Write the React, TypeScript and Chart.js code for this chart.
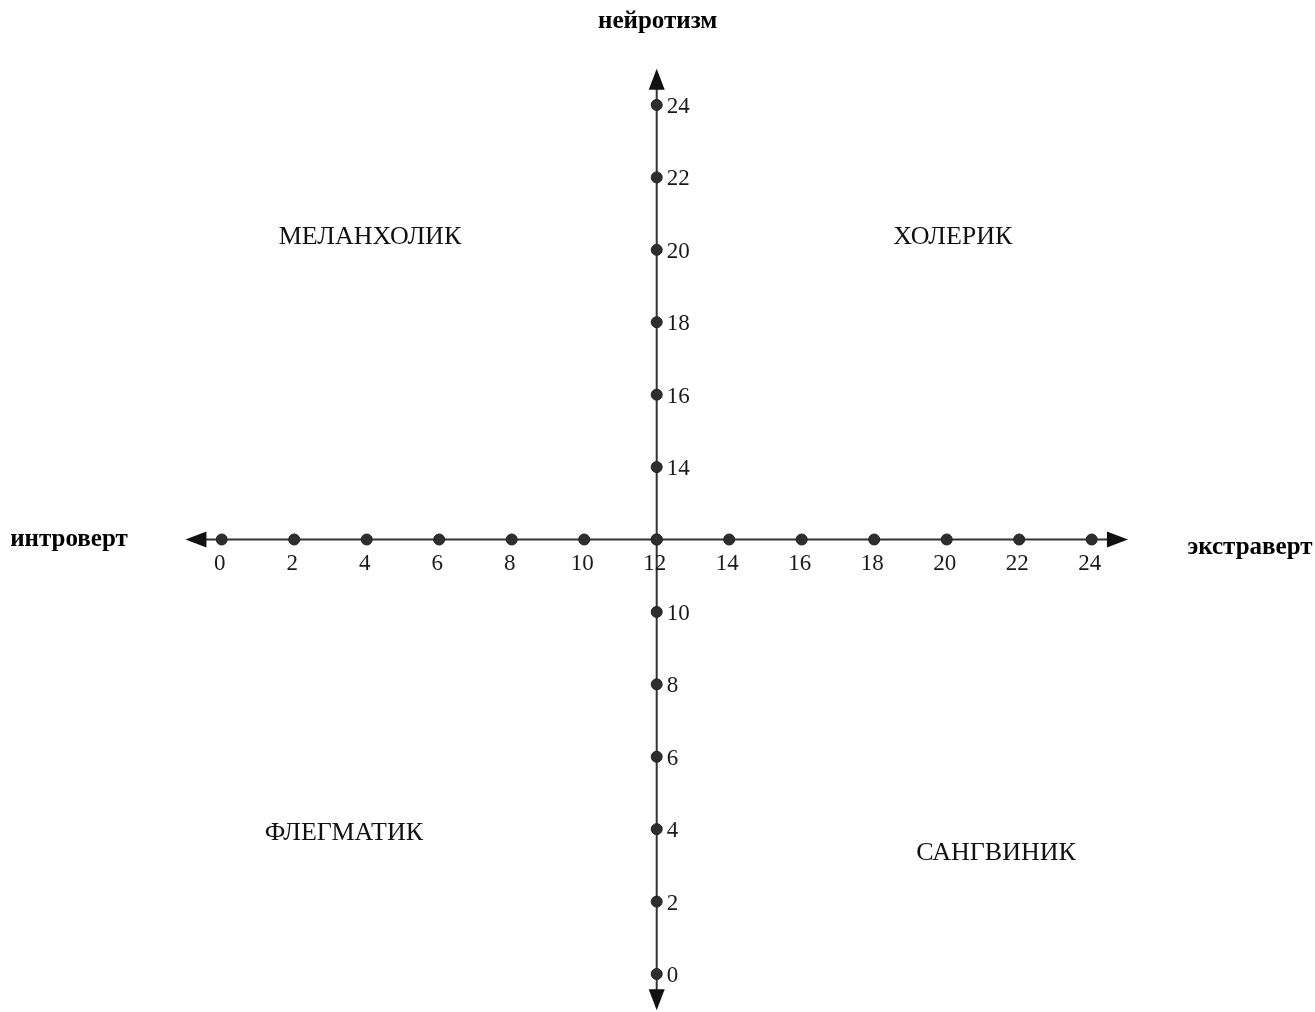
import React, { useEffect, useRef } from "react";
import { Chart, registerables } from "chart.js";

Chart.register(...registerables);

const extraversionTicks = [0, 2, 4, 6, 8, 10, 12, 14, 16, 18, 20, 22, 24];
const neuroticismTicks = [0, 2, 4, 6, 8, 10, 12, 14, 16, 18, 20, 22, 24];
const axisCenter = 12;
const axisEnds = [-1, 25];
const hiddenYTickLabels = [12];
const quadrantNames = ["МЕЛАНХОЛИК", "ХОЛЕРИК", "ФЛЕГМАТИК", "САНГВИНИК"];
const quadrantX = [4.09, 20.17, 3.37, 21.36];
const quadrantY = [20.35, 20.35, 3.89, 3.34];
const axisTitles = { top: "нейротизм", left: "интроверт", right: "экстраверт" };

const LINE = "#333333";
const SERIF = '"Liberation Serif", "Times New Roman", serif';

const axesPlugin = {
  id: "crossAxes",
  beforeDatasetsDraw(chart: any) {
    const { ctx, scales } = chart;
    const xs = scales.x;
    const ys = scales.y;
    const cx = xs.getPixelForValue(axisCenter);
    const cy = ys.getPixelForValue(axisCenter);
    const xl = xs.getPixelForValue(axisEnds[0]);
    const xr = xs.getPixelForValue(axisEnds[1]);
    const yt = ys.getPixelForValue(axisEnds[1]);
    const yb = ys.getPixelForValue(axisEnds[0]);
    ctx.save();
    ctx.strokeStyle = LINE;
    ctx.fillStyle = "#111";
    ctx.lineWidth = 2;
    ctx.beginPath();
    ctx.moveTo(xl + 4, cy);
    ctx.lineTo(xr - 4, cy);
    ctx.moveTo(cx, yt + 4);
    ctx.lineTo(cx, yb - 4);
    ctx.stroke();
    const L = 21;
    const W = 8;
    ctx.beginPath();
    ctx.moveTo(xl, cy);
    ctx.lineTo(xl + L, cy - W);
    ctx.lineTo(xl + L, cy + W);
    ctx.closePath();
    ctx.fill();
    ctx.beginPath();
    ctx.moveTo(xr, cy);
    ctx.lineTo(xr - L, cy - W);
    ctx.lineTo(xr - L, cy + W);
    ctx.closePath();
    ctx.fill();
    ctx.beginPath();
    ctx.moveTo(cx, yt);
    ctx.lineTo(cx - W, yt + L);
    ctx.lineTo(cx + W, yt + L);
    ctx.closePath();
    ctx.fill();
    ctx.beginPath();
    ctx.moveTo(cx, yb);
    ctx.lineTo(cx - W, yb - L);
    ctx.lineTo(cx + W, yb - L);
    ctx.closePath();
    ctx.fill();
    ctx.restore();
  },
  afterDatasetsDraw(chart: any) {
    const { ctx, scales } = chart;
    const xs = scales.x;
    const ys = scales.y;
    const cx = xs.getPixelForValue(axisCenter);
    const cy = ys.getPixelForValue(axisCenter);
    ctx.save();
    ctx.fillStyle = "#1a1a1a";
    ctx.font = `23px ${SERIF}`;
    ctx.textBaseline = "middle";
    ctx.textAlign = "center";
    extraversionTicks.forEach((v) => {
      ctx.fillText(String(v), xs.getPixelForValue(v) - 2, cy + 24);
    });
    ctx.textAlign = "left";
    neuroticismTicks.forEach((v) => {
      if (hiddenYTickLabels.includes(v)) return;
      ctx.fillText(String(v), cx + 10, ys.getPixelForValue(v) + 2);
    });
    ctx.fillStyle = "#111";
    ctx.font = `26px ${SERIF}`;
    ctx.textAlign = "center";
    quadrantNames.forEach((name, i) => {
      ctx.fillText(name, xs.getPixelForValue(quadrantX[i]), ys.getPixelForValue(quadrantY[i]));
    });
    ctx.font = `bold 25px ${SERIF}`;
    ctx.fillStyle = "#000";
    ctx.textAlign = "center";
    ctx.fillText(axisTitles.top, cx + 1, 22);
    ctx.fillText(axisTitles.left, 69, cy);
    ctx.fillText(axisTitles.right, 1250, cy + 8);
    ctx.restore();
  },
};

export default function App() {
  const ref = useRef<HTMLCanvasElement>(null);
  useEffect(() => {
    if (!ref.current) return;
    const chart = new Chart(ref.current, {
      type: "scatter",
      data: {
        datasets: [
          {
            label: "экстраверсия",
            data: extraversionTicks.map((v) => ({ x: v, y: axisCenter })),
            pointRadius: 5.5,
            pointBackgroundColor: "#2e2e2e",
            pointBorderColor: "#222",
            pointBorderWidth: 1,
          },
          {
            label: "нейротизм",
            data: neuroticismTicks.map((v) => ({ x: axisCenter, y: v })),
            pointRadius: 5.5,
            pointBackgroundColor: "#2e2e2e",
            pointBorderColor: "#222",
            pointBorderWidth: 1,
          },
        ],
      },
      options: {
        responsive: false,
        animation: false,
        layout: { padding: 0, autoPadding: false },
        plugins: { legend: { display: false }, tooltip: { enabled: false }, title: { display: false } },
        scales: {
          x: { type: "linear", min: -6.116, max: 30.16, display: false },
          y: { type: "linear", min: -1.049, max: 26.899, display: false },
        },
      },
      plugins: [axesPlugin],
    });
    return () => chart.destroy();
  }, []);
  return (
    <div style={{ position: "absolute", left: 0, top: 0, width: 1315, height: 1012, background: "#fff" }}>
      <canvas ref={ref} width={1315} height={1012} />
    </div>
  );
}
